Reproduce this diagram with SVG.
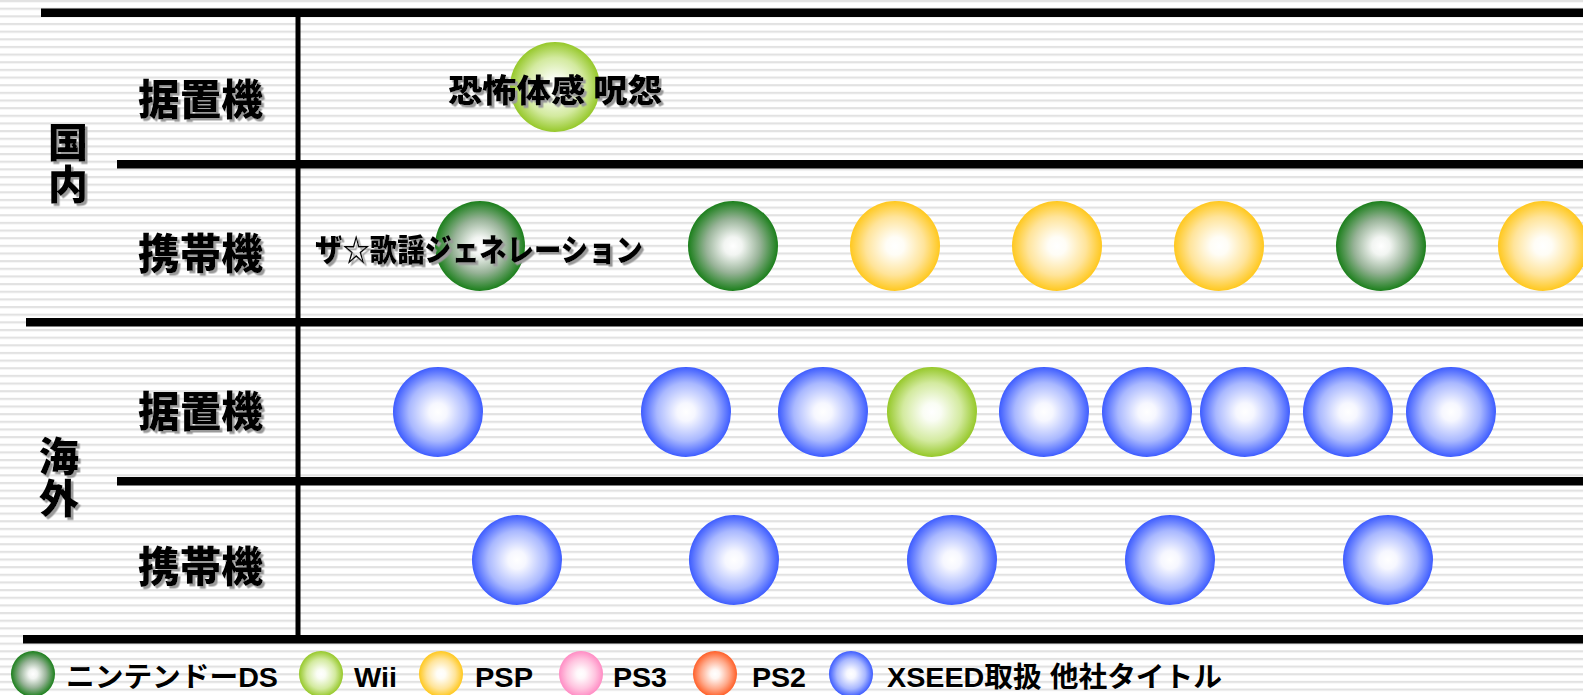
<svg xmlns="http://www.w3.org/2000/svg" width="1583" height="695" viewBox="0 0 1583 695">
<defs>
<pattern id="stripes" patternUnits="userSpaceOnUse" width="20" height="7.65">
<rect width="20" height="7.65" fill="#ffffff"/>
<rect y="0" width="20" height="2.2" fill="#e2e2e2"/>
</pattern>
<radialGradient id="gDS"><stop offset="0" stop-color="#ffffff"/><stop offset="0.2" stop-color="#f2f5f2"/><stop offset="0.6" stop-color="#98b398"/><stop offset="1" stop-color="#1b7f1b"/></radialGradient>
<radialGradient id="gWii"><stop offset="0" stop-color="#ffffff"/><stop offset="0.2" stop-color="#fafdf4"/><stop offset="0.65" stop-color="#d3ea9f"/><stop offset="1" stop-color="#96c82a"/></radialGradient>
<radialGradient id="gPSP"><stop offset="0" stop-color="#ffffff"/><stop offset="0.2" stop-color="#fffdf6"/><stop offset="0.65" stop-color="#ffe49a"/><stop offset="1" stop-color="#ffc81e"/></radialGradient>
<radialGradient id="gPS3"><stop offset="0" stop-color="#ffffff"/><stop offset="0.2" stop-color="#fff8fb"/><stop offset="0.65" stop-color="#ffc4df"/><stop offset="1" stop-color="#ff8cc4"/></radialGradient>
<radialGradient id="gPS2"><stop offset="0" stop-color="#ffffff"/><stop offset="0.2" stop-color="#fff6f2"/><stop offset="0.65" stop-color="#ffa98a"/><stop offset="1" stop-color="#ff5f28"/></radialGradient>
<radialGradient id="gX"><stop offset="0" stop-color="#ffffff"/><stop offset="0.2" stop-color="#f6f7ff"/><stop offset="0.65" stop-color="#a9b8ff"/><stop offset="1" stop-color="#3d5cff"/></radialGradient>
<filter id="sh" x="-10%" y="-10%" width="130%" height="140%">
<feDropShadow dx="2.5" dy="2.5" stdDeviation="0.4" flood-color="#9a9a9a" flood-opacity="1"/>
</filter>
</defs>
<style>
.ln{fill:#000}
.lbl{font-family:"Noto Sans CJK JP",sans-serif;font-weight:900;fill:#000;filter:url(#sh)}
.big{font-size:42px}
.cat{font-size:40px;writing-mode:vertical-rl;letter-spacing:2px}
.ttl{font-size:32px}
.leg{font-family:"Liberation Sans","Noto Sans CJK JP",sans-serif;font-size:28px;font-weight:700;fill:#000}
.ds{fill:url(#gDS)} .wii{fill:url(#gWii)} .psp{fill:url(#gPSP)} .ps3{fill:url(#gPS3)} .ps2{fill:url(#gPS2)} .xs{fill:url(#gX)}
</style>
<rect width="1583" height="695" fill="url(#stripes)"/>

<g id="connectors">
<rect class="ln" x="41" y="8.5" width="1542" height="8.5"/>
<rect class="ln" x="117" y="160" width="1466" height="8.5"/>
<rect class="ln" x="26" y="318" width="1557" height="8.5"/>
<rect class="ln" x="117" y="477" width="1466" height="8.5"/>
<rect class="ln" x="23" y="635" width="1560" height="8.5"/>
<rect class="ln" x="295.5" y="12" width="5" height="628"/>
</g>

<g id="category-labels">
<g id="cat-domestic"><text class="lbl cat" x="68" y="122">国内</text></g>
<g id="cat-overseas"><text class="lbl cat" x="59" y="436">海外</text></g>
<g id="row1-label"><text class="lbl big" x="138" y="96" dominant-baseline="central" textLength="125" lengthAdjust="spacingAndGlyphs">据置機</text></g>
<g id="row2-label"><text class="lbl big" x="138" y="250" dominant-baseline="central" textLength="125" lengthAdjust="spacingAndGlyphs">携帯機</text></g>
<g id="row3-label"><text class="lbl big" x="138" y="408" dominant-baseline="central" textLength="125" lengthAdjust="spacingAndGlyphs">据置機</text></g>
<g id="row4-label"><text class="lbl big" x="138" y="563" dominant-baseline="central" textLength="125" lengthAdjust="spacingAndGlyphs">携帯機</text></g>
</g>

<g id="row1">
<g id="r1c1"><circle class="wii" cx="555" cy="87" r="45"/><text class="lbl ttl" x="448" y="88" dominant-baseline="central" textLength="214" lengthAdjust="spacingAndGlyphs">恐怖体感 呪怨</text></g>
</g>

<g id="row2">
<g id="r2c1"><circle class="ds" cx="480" cy="246" r="45"/><text class="lbl" style="font-size:31px" x="315" y="247" dominant-baseline="central" textLength="328" lengthAdjust="spacingAndGlyphs">ザ☆歌謡ジェネレーション</text></g>
<g id="r2c2"><circle class="ds" cx="733" cy="246" r="45"/></g>
<g id="r2c3"><circle class="psp" cx="895" cy="246" r="45"/></g>
<g id="r2c4"><circle class="psp" cx="1057" cy="246" r="45"/></g>
<g id="r2c5"><circle class="psp" cx="1219" cy="246" r="45"/></g>
<g id="r2c6"><circle class="ds" cx="1381" cy="246" r="45"/></g>
<g id="r2c7"><circle class="psp" cx="1543" cy="246" r="45"/></g>
</g>

<g id="row3">
<g id="r3c1"><circle class="xs" cx="438" cy="412" r="45"/></g>
<g id="r3c2"><circle class="xs" cx="686" cy="412" r="45"/></g>
<g id="r3c3"><circle class="xs" cx="823" cy="412" r="45"/></g>
<g id="r3c4"><circle class="wii" cx="932" cy="412" r="45"/></g>
<g id="r3c5"><circle class="xs" cx="1044" cy="412" r="45"/></g>
<g id="r3c6"><circle class="xs" cx="1147" cy="412" r="45"/></g>
<g id="r3c7"><circle class="xs" cx="1245" cy="412" r="45"/></g>
<g id="r3c8"><circle class="xs" cx="1348" cy="412" r="45"/></g>
<g id="r3c9"><circle class="xs" cx="1451" cy="412" r="45"/></g>
</g>

<g id="row4">
<g id="r4c1"><circle class="xs" cx="517" cy="560" r="45"/></g>
<g id="r4c2"><circle class="xs" cx="734" cy="560" r="45"/></g>
<g id="r4c3"><circle class="xs" cx="952" cy="560" r="45"/></g>
<g id="r4c4"><circle class="xs" cx="1170" cy="560" r="45"/></g>
<g id="r4c5"><circle class="xs" cx="1388" cy="560" r="45"/></g>
</g>

<g id="legend">
<g id="leg-ds"><ellipse class="ds" cx="33" cy="674" rx="22" ry="23"/><text class="leg" x="66" y="687" textLength="212" lengthAdjust="spacingAndGlyphs">ニンテンドーDS</text></g>
<g id="leg-wii"><ellipse class="wii" cx="321" cy="674" rx="22" ry="23"/><text class="leg" x="354" y="687" textLength="43" lengthAdjust="spacingAndGlyphs">Wii</text></g>
<g id="leg-psp"><ellipse class="psp" cx="441" cy="674" rx="22" ry="23"/><text class="leg" x="475" y="687" textLength="58" lengthAdjust="spacingAndGlyphs">PSP</text></g>
<g id="leg-ps3"><ellipse class="ps3" cx="581" cy="674" rx="22" ry="23"/><text class="leg" x="613" y="687" textLength="54" lengthAdjust="spacingAndGlyphs">PS3</text></g>
<g id="leg-ps2"><ellipse class="ps2" cx="715" cy="674" rx="22" ry="23"/><text class="leg" x="752" y="687" textLength="54" lengthAdjust="spacingAndGlyphs">PS2</text></g>
<g id="leg-xseed"><ellipse class="xs" cx="851" cy="674" rx="22" ry="23"/><text class="leg" x="887" y="687" textLength="335" lengthAdjust="spacingAndGlyphs">XSEED取扱 他社タイトル</text></g>
</g>
</svg>
